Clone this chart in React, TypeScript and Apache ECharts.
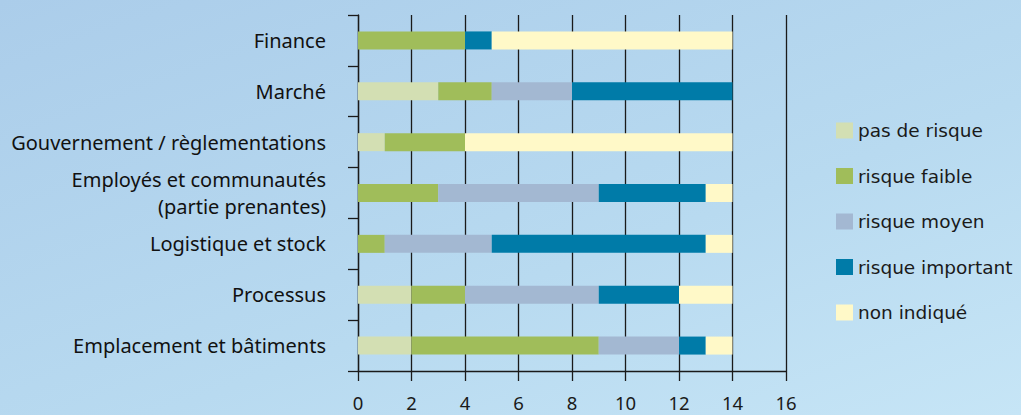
import React, { useEffect, useRef } from "react";
import * as echarts from "echarts";

const categories = [
  "Emplacement et bâtiments",
  "Processus",
  "Logistique et stock",
  "Employés et communautés\n(partie prenantes)",
  "Gouvernement / règlementations",
  "Marché",
  "Finance",
];
const seriesNames = ["pas de risque", "risque faible", "risque moyen", "risque important", "non indiqué"];
const pasDeRisque = [2, 2, 0, 0, 1, 3, 0];
const risqueFaible = [7, 2, 1, 3, 3, 2, 4];
const risqueMoyen = [3, 5, 4, 6, 0, 3, 0];
const risqueImportant = [1, 3, 8, 4, 0, 6, 1];
const nonIndique = [1, 2, 1, 1, 10, 0, 9];
const colors = ["#d3dfb3", "#a0bd5a", "#a3b8d2", "#007ba8", "#fff9c8"];

export default function App() {
  const ref = useRef<HTMLDivElement>(null);
  useEffect(() => {
    if (!ref.current) return;
    const chart = echarts.init(ref.current, undefined, { renderer: "svg" });
    const values = [pasDeRisque, risqueFaible, risqueMoyen, risqueImportant, nonIndique];
    const font = "'Noto Sans', 'Open Sans', sans-serif";
    const legendFont = "'DejaVu Sans', 'Noto Sans', sans-serif";
    chart.setOption({
      animation: false,
      textStyle: { fontFamily: font },
      grid: { left: 358, right: 235, top: 15, bottom: 44 },
      legend: {
        orient: "vertical",
        left: 831,
        top: 116,
        itemWidth: 17,
        itemHeight: 16,
        itemGap: 26.5,
        icon: "rect",
        textStyle: { fontSize: 18.5, color: "#1a1a1a", fontFamily: legendFont },
        data: seriesNames,
      },
      xAxis: {
        type: "value",
        min: 0,
        max: 16,
        interval: 2,
        axisLine: { show: true, lineStyle: { color: "#1a1a1a", width: 1.3 } },
        axisTick: { show: true, length: 10, lineStyle: { color: "#1a1a1a", width: 1.3 } },
        splitLine: { show: true, lineStyle: { color: "#1a1a1a", width: 1.3 } },
        axisLabel: { fontSize: 18.5, color: "#1a1a1a", margin: 22, fontFamily: font },
      },
      yAxis: {
        type: "category",
        data: categories,
        axisLine: { show: true, lineStyle: { color: "#1a1a1a", width: 1.3 } },
        axisTick: { show: true, length: 10, lineStyle: { color: "#1a1a1a", width: 1.3 } },
        axisLabel: {
          fontSize: 20,
          color: "#111111",
          margin: 32,
          lineHeight: 27,
          align: "right",
          fontFamily: font,
        },
      },
      series: seriesNames.map((name, i) => ({
        name,
        type: "bar",
        stack: "total",
        barWidth: 18,
        itemStyle: { color: colors[i] },
        data: values[i],
      })),
    });
    return () => chart.dispose();
  }, []);
  return (
    <div
      style={{
        position: "absolute",
        left: 0,
        top: 0,
        width: 1021,
        height: 415,
        background: "linear-gradient(160deg, #abcdea 0%, #b8daf0 60%, #c6e5f6 100%)",
      }}
    >
      <div ref={ref} style={{ width: 1021, height: 415 }} />
    </div>
  );
}
